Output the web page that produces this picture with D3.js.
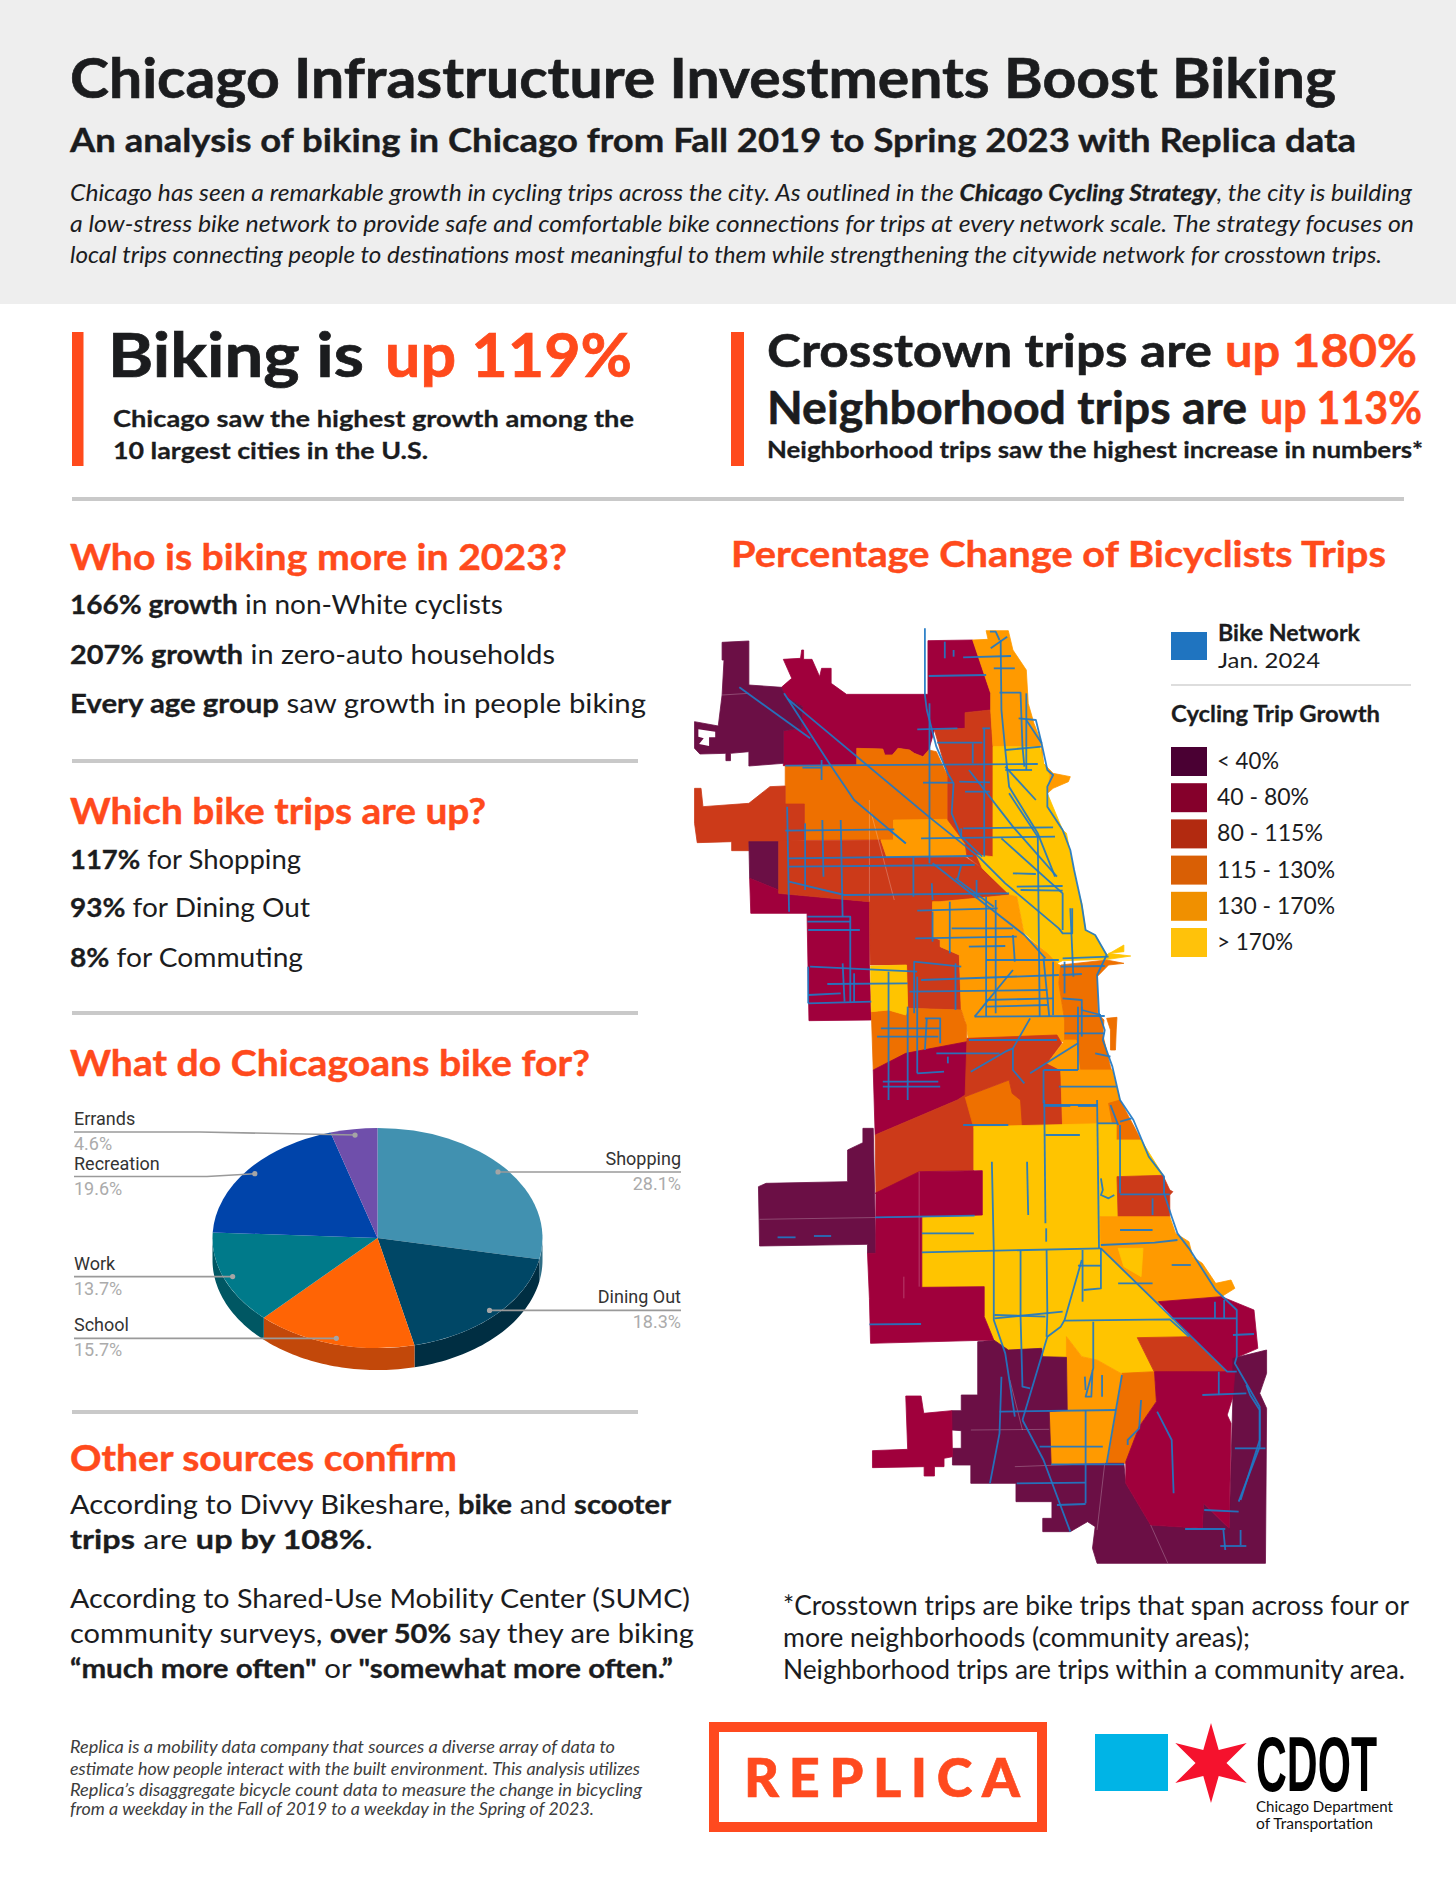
<!DOCTYPE html>
<html>
<head>
<meta charset="utf-8">
<title>Chicago biking</title>
<script src="https://cdn.jsdelivr.net/npm/d3@7"></script>
<style>
  html, body { margin: 0; padding: 0; background: #fff; }
  svg { display: block; }
  text { font-family: Lato, "Open Sans", sans-serif; }
</style>
</head>
<body>
<svg id="page" width="1456" height="1885"></svg>
<script>
// pie data
var tripNames = ["Shopping", "Dining Out", "School", "Work", "Recreation", "Errands"];
var tripShares = [28.1, 18.3, 15.7, 13.7, 19.6, 4.6];
var tripTop = ["#4191b0", "#004766", "#ff6405", "#007a8a", "#0044aa", "#6f4fab"];
var tripSide = ["#2f6e86", "#002e42", "#c2480a", "#005763", "#002f78", "#4c3577"];

// legend
var growthLabels = ["< 40%", "40 - 80%", "80 - 115%", "115 - 130%", "130 - 170%", "> 170%"];
var growthSwatch = ["#4a0033", "#85002b", "#b22a10", "#d95f05", "#f09000", "#ffc20a"];
var growthMap = ["#6b0f45", "#a0003c", "#cc3a19", "#ee7000", "#ff9a00", "#ffc400"];

// map areas, [growth class, outline], outline is flat u,v pairs in map units
var areas = [
  [1, [648,122,765,120,812,280,812,330,745,338,745,385,665,390,650,450,635,470,612,460,600,450,570,445,555,465,535,465,530,447,462,445,462,497,270,497,270,392,318,385,320,320,275,290,265,262,292,235,270,178,315,175,318,150,323,150,323,178,345,178,365,230,370,205,395,205,395,250,435,283,648,283]],
  [0, [110,127,180,123,180,255,265,262,275,290,320,320,318,385,270,392,270,490,180,498,180,455,132,460,132,482,120,482,120,460,52,462,38,445,38,365,100,378,110,285,115,180,110,180]],
  [3, [275,497,462,495,462,445,530,447,535,465,555,465,570,445,600,450,612,460,635,470,650,450,670,455,700,530,700,660,558,660,558,720,325,720,325,612,275,612]],
  [2, [38,565,55,565,60,620,180,610,235,560,275,558,275,612,325,612,325,720,258,725,180,725,180,752,135,752,135,725,45,728,38,670]],
  [0, [180,725,258,725,258,870,182,835]],
  [1, [182,835,258,870,258,880,495,905,495,1095,500,1260,337,1262,332,940,185,940]],
  [2, [258,722,525,720,540,770,745,770,790,805,862,885,680,905,660,910,660,1010,680,1020,680,1040,730,1065,735,1230,595,1225,592,1095,497,1095,495,905,258,880]],
  [4, [558,660,700,658,745,730,750,770,540,770,525,720,558,720]],
  [2, [665,390,745,385,745,338,812,330,818,440,820,770,790,805,750,770,745,730,700,660,700,530]],
  [4, [765,120,805,118,800,92,858,92,870,150,905,210,910,310,925,370,945,430,940,440,818,440,812,330,812,280]],
  [4, [945,430,950,490,975,520,1020,530,1015,545,975,565,960,580,940,520]],
  [5, [818,440,940,440,950,490,965,525,960,580,1000,690,1010,700,1020,760,1040,870,1050,910,1060,990,1085,1005,1115,1065,1160,1035,1160,1055,1120,1060,1178,1068,1120,1078,1000,1082,985,1090,960,1060,900,1000,880,890,862,885,790,805,775,765,818,770]],
  [4, [680,905,862,885,880,890,900,1005,960,1060,985,1090,1000,1100,990,1150,1005,1260,1005,1325,755,1325,745,1260,735,1230,730,1065,680,1040,680,1020,660,1010,660,905]],
  [3, [995,1095,1115,1080,1160,1090,1120,1095,1090,1130,1092,1240,1108,1260,1105,1305,1125,1400,1130,1420,1045,1415,1035,1325,1005,1320,1005,1260,990,1150]],
  [3, [1115,1255,1142,1252,1140,1290,1138,1350,1125,1350,1125,1290]],
  [3, [500,1235,545,1230,590,1245,595,1225,735,1230,748,1275,750,1330,590,1365,505,1410]],
  [5, [498,1098,592,1095,595,1225,590,1245,545,1230,500,1235]],
  [1, [505,1410,590,1360,750,1325,755,1480,725,1500,510,1605]],
  [2, [510,1605,725,1500,752,1480,768,1580,768,1712,625,1715,555,1760,512,1780]],
  [3, [745,1490,860,1440,870,1480,895,1500,900,1585,768,1585]],
  [2, [750,1315,985,1305,998,1330,960,1390,995,1410,1000,1585,895,1585,890,1500,868,1480,860,1440,745,1490]],
  [4, [1005,1320,1035,1320,1045,1410,1130,1410,1150,1500,1140,1585,1000,1585,995,1410,960,1390,1000,1330]],
  [3, [1120,1510,1150,1500,1205,1620,1140,1625,1130,1570]],
  [5, [768,1580,1140,1570,1140,1620,1205,1620,1262,1725,1142,1732,1145,1850,1100,1850,1100,1945,1335,2212,1195,2215,1240,2315,1155,2322,1090,2280,1050,2270,1010,2210,1010,2272,948,2270,945,2245,858,2250,820,2220,795,2150,795,2060,632,2062,632,1850,790,1845,790,1712,768,1710]],
  [2, [1142,1730,1262,1726,1280,1770,1288,1775,1280,1785,1280,1852,1145,1852]],
  [4, [1098,1850,1280,1850,1295,1900,1330,1925,1340,1970,1365,1990,1400,2050,1440,2040,1450,2065,1415,2090,1400,2105,1250,2115,1100,1945]],
  [5, [1145,1945,1210,1945,1205,2030,1160,2000]],
  [1, [1250,2105,1415,2090,1500,2130,1510,2245,1450,2275,1450,2315,1430,2315,1335,2212]],
  [2, [1195,2213,1335,2210,1430,2315,1240,2317]],
  [3, [1155,2320,1240,2315,1245,2405,1200,2480,1165,2590,1115,2590]],
  [4, [1010,2272,1010,2210,1050,2270,1090,2280,1155,2322,1140,2430,1115,2593,968,2595,965,2433,1012,2430]],
  [0, [778,2225,820,2220,858,2250,945,2245,948,2270,1010,2272,1012,2430,965,2435,970,2595,1115,2590,1160,2590,1165,2650,1230,2775,1365,2785,1368,2710,1435,2785,1445,2390,1445,2275,1533,2250,1533,2320,1515,2380,1533,2425,1530,2890,1090,2890,1078,2845,1085,2780,1065,2765,1020,2795,948,2795,948,2755,972,2755,972,2705,878,2705,878,2650,760,2650,760,2595,712,2595,712,2545,735,2545,735,2492,710,2490,710,2432,735,2432,735,2385,778,2385]],
  [1, [1240,2315,1450,2315,1445,2390,1430,2445,1440,2470,1435,2785,1368,2710,1365,2785,1230,2775,1165,2650,1165,2585,1200,2480,1245,2405]],
  [1, [590,2388,630,2388,637,2440,710,2432,712,2570,690,2575,690,2600,665,2600,665,2628,638,2628,638,2600,503,2603,503,2552,595,2548]],
  [0, [205,1760,225,1750,438,1745,438,1650,478,1628,478,1585,505,1585,512,1960,490,1960,490,1933,208,1938]],
  [1, [510,1780,625,1715,790,1712,790,1845,632,1850,632,2062,795,2060,795,2150,820,2220,498,2230,495,2095,490,1960,512,1960,512,1780]]
];

// white gap inside the northwest area
var gaps = [[48,388,92,395,92,412,76,412,76,438,50,432,62,415,48,410]];

// thin community area borders
var borders = [
  [625,1715,625,2060], [208,1858,770,1848], [495,600,495,905], [110,285,180,280],
  [500,640,560,900], [760,2490,965,2488], [1110,2590,1090,2790], [875,2600,1110,2590],
  [1230,2775,1275,2890], [862,2340,895,2490], [585,2030,585,2095]
];

// bike network polylines in map units
var bikeLines = [
  [640,85,640,285,645,330,670,440,700,520,715,550,710,640,735,710,790,770],
  [652,310,652,790], [838,120,840,330,850,450,860,560,935,700,980,830],
  [810,95,825,95,835,120], [855,110,812,145], [740,172,865,168], [820,205,875,205],
  [650,228,800,225], [692,125,692,175], [715,150,715,170], [835,278,890,278,895,440,900,500],
  [905,280,905,510], [885,355,930,360,945,430], [620,388,725,385], [672,428,790,428],
  [790,385,810,385], [795,385,795,770], [765,430,765,490], [275,497,935,492], [320,503,370,503],
  [370,480,370,540], [635,548,715,548], [745,575,810,575], [730,545,810,547], [850,510,920,510],
  [850,450,945,440], [905,360,945,430,960,510,975,525,960,560,960,620,1000,690,1020,750,1030,810,1050,915,1060,990,1085,1005,1115,1065,1090,1125,1095,1240,1110,1290,1105,1320,1130,1400,1150,1500,1185,1560,1225,1670,1265,1730,1265,1780,1285,1850,1300,1900,1330,1945,1400,2070,1455,2130,1455,2270,1450,2290,1475,2340,1515,2420,1515,2520,1465,2700],
  [155,262,340,415], [280,295,650,650,780,770,850,850,990,985,1000,1000,1025,1000,1025,925],
  [272,280,390,490,455,600,590,730], [660,790,900,1005,955,1075], [720,835,820,920],
  [755,510,870,680,985,830], [860,580,935,710,940,1250], [850,500,930,600], [840,715,1000,880,1000,990],
  [890,870,1000,872], [870,820,930,822], [880,860,1000,858], [275,692,560,688], [545,688,590,730],
  [630,715,980,710], [740,685,975,682], [735,685,735,712], [282,775,765,768], [285,800,770,795],
  [285,845,430,885,860,880], [620,932,830,925], [615,1015,880,1010], [660,935,660,1025], [705,905,705,1060],
  [710,985,870,985], [755,1040,850,1038], [800,1080,990,1080], [630,1140,990,1125], [600,1175,960,1170],
  [340,1100,620,1115], [385,1152,595,1150], [335,1210,500,1205], [335,1185,420,1180],
  [280,620,285,935], [327,670,327,870], [372,660,375,830], [420,660,425,950], [610,770,610,890],
  [658,850,660,900], [735,795,725,840], [775,840,775,895], [800,890,800,1250], [825,900,825,1240],
  [870,1005,875,1085], [720,1090,720,1230], [735,1100,612,1085,612,1240], [950,1075,965,1250],
  [975,1085,975,1245], [1005,1085,1005,1180], [1020,925,1028,1130], [770,1250,870,1110], [770,1250,1110,1248],
  [800,1200,975,1195], [800,1220,960,1215], [333,950,445,950,445,1205], [333,965,445,965], [335,990,470,990],
  [335,1100,335,1210], [425,1090,430,1205], [455,1120,455,1205], [620,1130,620,1420], [595,1220,595,1500],
  [545,1115,545,1500], [640,1255,680,1255,680,1330], [525,1285,680,1285], [515,1310,675,1310], [645,1255,640,1350],
  [670,1360,835,1360], [620,1420,690,1415], [530,1445,675,1445], [530,1460,680,1460], [700,1370,700,1390],
  [760,1415,850,1355,870,1345], [915,1255,870,1345,870,1410,900,1450], [755,1320,985,1320], [915,1420,1040,1330],
  [950,1410,1040,1410], [1040,1220,1040,1410], [950,1410,950,1510], [950,1515,1090,1515], [990,1460,1140,1460],
  [1050,1220,1050,1310], [1000,1195,1050,1200,1050,1230,1100,1245], [1005,1300,1110,1300], [1085,1360,1125,1370],
  [1000,1075,1120,1070], [995,1100,1110,1098], [1000,1125,1050,1122],
  [952,1500,955,1870], [957,1885,957,1925], [1090,1500,1095,1945], [740,1575,858,1575], [955,1605,1045,1605],
  [1090,1570,1145,1570], [1150,1575,1150,1780], [1125,1515,1145,1575], [1150,1565,1180,1555], [950,1518,1020,1518],
  [1040,1518,1090,1518], [1100,1735,1105,1770,1100,1785,1120,1795,1135,1785], [1150,1783,1280,1783], [1235,1795,1235,1845],
  [815,1685,820,1950,820,2160,850,2260,875,2450], [907,1685,910,1845], [632,1900,768,1900], [632,1957,1100,1945],
  [510,1852,770,1847], [255,1912,302,1912], [350,1908,395,1908], [1150,1890,1235,1890], [1100,1935,1240,1928,1300,1920],
  [1100,1945,1430,2315,1455,2315], [1285,1995,1335,1995], [1145,2050,1235,2050], [1040,1997,1100,1997],
  [1100,1945,1100,2065,1055,2070], [1052,1950,1052,2105], [890,1952,890,2150,895,2360,915,2365], [958,1950,960,2140,958,2210],
  [1050,1980,1005,2160,995,2180,960,2210,895,2460], [822,2155,1000,2135], [822,2145,955,2150], [1005,2162,1280,2158,1330,2210],
  [1080,2165,1080,2305,1060,2390,1075,2390,1078,2310], [1058,2330,1060,2370], [1103,2325,1103,2390], [1155,2325,1115,2590],
  [1285,2155,1455,2155], [1398,2105,1398,2155], [1422,2100,1422,2155], [1445,2205,1500,2202], [1408,2315,1408,2385],
  [1365,2385,1480,2380], [1480,2355,1490,2385,1515,2430,1515,2540,1460,2705], [1450,2545,1530,2545], [1370,2730,1460,2735],
  [1420,2790,1425,2850], [1412,2838,1480,2838], [1465,2790,1465,2835], [1320,2787,1425,2787], [1247,2435,1285,2520,1290,2680],
  [1205,2400,1200,2485,1170,2520,1170,2535], [840,2330,835,2500,810,2650], [835,2435,1140,2430], [940,2540,1105,2540],
  [970,2593,1160,2593], [1060,2590,1060,2710], [880,2650,1060,2648], [985,2715,1060,2712], [895,2460,950,2580,1020,2795],
  [1060,2430,1060,2590], [495,2173,630,2172]
];

var svg = d3.select("#page");
var INK = "#1b1c1e", ORANGE = "#ff4a1c";

// text line, runs are [string, weight, fill]; w pins the line width
function txt(x, y, w, size, weight, fill, runs, anchor, style) {
  var t = svg.append("text").attr("x", x).attr("y", y)
    .attr("font-size", size).attr("font-weight", weight).attr("fill", fill)
    .attr("text-anchor", anchor || "start");
  if (style) t.attr("font-style", style);
  if (w) t.attr("textLength", w).attr("lengthAdjust", "spacingAndGlyphs");
  runs.forEach(function(r) {
    var s = t.append("tspan").text(r[0]);
    var wt = r[1] || weight, col = r[2] || fill;
    if (r[1]) s.attr("font-weight", r[1]);
    if (r[2]) s.attr("fill", r[2]);
    // Lato bold is a bit lighter than the reference face
    if (wt >= 700) s.attr("stroke", col).attr("stroke-width", size * 0.012);
  });
  return t;
}
function rect(x, y, w, h, fill) {
  return svg.append("rect").attr("x", x).attr("y", y).attr("width", w).attr("height", h).attr("fill", fill);
}

// header
rect(0, 0, 1456, 304, "#eeeeee");
txt(70, 98, 1266, 56, 700, INK, [["Chicago Infrastructure Investments Boost Biking"]]);
txt(70, 152, 1286, 32, 700, INK, [["An analysis of biking in Chicago from Fall 2019 to Spring 2023 with Replica data"]]);
txt(70, 200.5, 1342, 22.5, 400, INK, [["Chicago has seen a remarkable growth in cycling trips across the city. As outlined in the "], ["Chicago Cycling Strategy", 700], [", the city is building"]], null, "italic");
txt(70, 231.5, 1344, 22.5, 400, INK, [["a low-stress bike network to provide safe and comfortable bike connections for trips at every network scale. The strategy focuses on"]], null, "italic");
txt(70, 262.5, 1312, 22.5, 400, INK, [["local trips connecting people to destinations most meaningful to them while strengthening the citywide network for crosstown trips."]], null, "italic");

// headline numbers
rect(72, 332, 11.5, 134, ORANGE);
rect(731, 332, 13, 134, ORANGE);
txt(108, 377, 256, 61, 700, INK, [["Biking is"]]);
txt(385, 377, 247, 61, 700, ORANGE, [["up 119%"]]);
txt(113, 427, 521, 23.5, 700, INK, [["Chicago saw the highest growth among the"]]);
txt(113, 458.5, 315, 23.5, 700, INK, [["10 largest cities in the U.S."]]);
txt(767, 367, 445, 46, 700, INK, [["Crosstown trips are"]]);
txt(1225, 367, 192, 46, 700, ORANGE, [["up 180%"]]);
txt(767, 424, 480, 46, 700, INK, [["Neighborhood trips are"]]);
txt(1260, 424, 162, 46, 700, ORANGE, [["up 113%"]]);
txt(767, 458, 656, 23.5, 700, INK, [["Neighborhood trips saw the highest increase in numbers*"]]);
rect(72, 497, 1332, 4, "#c9c9c9");

// left column
txt(70, 569.5, 497, 36, 700, ORANGE, [["Who is biking more in 2023?"]]);
txt(70, 613.5, 433, 26.5, 400, INK, [["166% growth", 700], [" in non-White cyclists"]]);
txt(70, 664, 485, 26.5, 400, INK, [["207% growth", 700], [" in zero-auto households"]]);
txt(70, 713, 576, 26.5, 400, INK, [["Every age group", 700], [" saw growth in people biking"]]);
rect(72, 759, 566, 4, "#c9c9c9");
txt(70, 824, 416, 36, 700, ORANGE, [["Which bike trips are up?"]]);
txt(70, 869, 231, 26.5, 400, INK, [["117%", 700], [" for Shopping"]]);
txt(70, 917, 240, 26.5, 400, INK, [["93%", 700], [" for Dining Out"]]);
txt(70, 967, 233, 26.5, 400, INK, [["8%", 700], [" for Commuting"]]);
rect(72, 1011, 566, 4, "#c9c9c9");
txt(70, 1076, 520, 36, 700, ORANGE, [["What do Chicagoans bike for?"]]);
rect(72, 1410, 566, 4, "#c9c9c9");
txt(70, 1470.5, 387, 36, 700, ORANGE, [["Other sources confirm"]]);
txt(70, 1514, 601, 26.5, 400, INK, [["According to Divvy Bikeshare, "], ["bike", 700], [" and "], ["scooter", 700]]);
txt(70, 1549, 303, 26.5, 400, INK, [["trips", 700], [" are "], ["up by 108%", 700], ["."]]);
txt(70, 1608, 620, 26.5, 400, INK, [["According to Shared-Use Mobility Center (SUMC)"]]);
txt(70, 1643, 624, 26.5, 400, INK, [["community surveys, "], ["over 50%", 700], [" say they are biking"]]);
txt(70, 1678, 603, 26.5, 400, INK, [["“much more often\"", 700], [" or "], ["\"somewhat more often.”", 700]]);

// pie
var CX = 377.5, CY = 1238, R = 165, SQUASH = 0.667, DEPTH = 22, DOT_R = 156;
var slices = d3.pie().sort(null)(tripShares);
var arc = d3.arc().innerRadius(0).outerRadius(R);
var rim = function(a, r) { return [CX + r * Math.sin(a), CY - r * Math.cos(a) * SQUASH]; };

// wall of the slice, only where it faces the viewer
var wall = d3.line();
svg.append("g").selectAll("path").data(slices).enter().append("path")
  .attr("fill", function(d, i) { return tripSide[i]; })
  .attr("d", function(d) {
    var a0 = Math.max(d.startAngle, Math.PI / 2), a1 = Math.min(d.endAngle, Math.PI * 1.5);
    if (a1 <= a0) return null;
    var n = 40, top = d3.range(n + 1).map(function(k) { return rim(a0 + (a1 - a0) * k / n, R); });
    var low = top.slice().reverse().map(function(p) { return [p[0], p[1] + DEPTH]; });
    return wall(top.concat(low)) + "Z";
  });
svg.append("g").attr("transform", "translate(" + CX + "," + CY + ") scale(1," + SQUASH + ")")
  .selectAll("path").data(slices).enter().append("path")
  .attr("fill", function(d, i) { return tripTop[i]; })
  .attr("d", arc);

// leader lines and labels
var leaderBend = { "Errands": [1132, 200], "Recreation": [1176.5, 207] };
slices.forEach(function(d, i) {
  var name = tripNames[i], mid = (d.startAngle + d.endAngle) / 2, p = rim(mid, DOT_R);
  var right = p[0] > CX, edge = right ? 681 : 74;
  var bend = leaderBend[name], y = bend ? bend[0] : p[1];
  var pts = bend ? [p, [bend[1], y], [edge, y]] : [p, [edge, y]];
  svg.append("path").attr("d", d3.line()(pts)).attr("fill", "none").attr("stroke", "#9a9a9a").attr("stroke-width", 1.6);
  svg.append("circle").attr("cx", p[0]).attr("cy", p[1]).attr("r", 2.6).attr("fill", "#a5a5a5");
  var anchor = right ? "end" : "start";
  svg.append("text").attr("x", edge).attr("y", y - 7).attr("text-anchor", anchor)
    .attr("font-size", 18).attr("fill", "#333").style("font-family", "Roboto, sans-serif").text(name);
  svg.append("text").attr("x", edge).attr("y", y + 18).attr("text-anchor", anchor)
    .attr("font-size", 18).attr("fill", "#ababab").style("font-family", "Roboto, sans-serif").text(tripShares[i] + "%");
});

// map
txt(731, 566.5, 655, 36, 700, ORANGE, [["Percentage Change of Bicyclists Trips"]]);
var mapX = d3.scaleLinear().domain([0, 1568]).range([680, 1280]);
var mapY = d3.scaleLinear().domain([0, 3000]).range([600, 1600]);
var pairs = function(f) { return d3.range(f.length / 2).map(function(k) { return [f[2 * k], f[2 * k + 1]]; }); };
var mapLine = d3.line().x(function(p) { return mapX(p[0]); }).y(function(p) { return mapY(p[1]); });
var map = svg.append("g");
map.selectAll("path.area").data(areas).enter().append("path").attr("class", "area")
  .attr("fill", function(d) { return growthMap[d[0]]; })
  .attr("stroke", function(d) { return growthMap[d[0]]; }).attr("stroke-width", 0.8)
  .attr("d", function(d) { return mapLine(pairs(d[1])) + "Z"; });
map.selectAll("path.gap").data(gaps).enter().append("path").attr("class", "gap")
  .attr("fill", "#fff").attr("d", function(d) { return mapLine(pairs(d)) + "Z"; });
map.selectAll("path.border").data(borders).enter().append("path").attr("class", "border")
  .attr("fill", "none").attr("stroke", "#fff").attr("stroke-opacity", 0.3).attr("stroke-width", 0.8)
  .attr("d", function(d) { return mapLine(pairs(d)); });
map.selectAll("path.bike").data(bikeLines).enter().append("path").attr("class", "bike")
  .attr("fill", "none").attr("stroke", "#1f78c4").attr("stroke-opacity", 0.92).attr("stroke-width", 1.8).attr("stroke-linejoin", "round")
  .attr("d", function(d) { return mapLine(pairs(d)); });

// legend
rect(1171, 632, 36, 28, "#1f74c0");
txt(1218, 641, 142, 22, 700, INK, [["Bike Network"]]);
txt(1218, 668, 102, 22, 400, INK, [["Jan. 2024"]]);
rect(1171, 684, 240, 2, "#dddddd");
txt(1171, 722, 209, 22, 700, INK, [["Cycling Trip Growth"]]);
var swatchY = d3.scalePoint().domain(growthLabels).range([747, 928]);
var growthWidths = [62, 92, 106, 118, 118, 76];
growthLabels.forEach(function(g, i) {
  rect(1171, swatchY(g), 36, 29, growthSwatch[i]);
  txt(1217, swatchY(g) + 22, growthWidths[i], 23, 400, INK, [[g]]);
});

// footnote
txt(783, 1615, 626, 26, 400, INK, [["*Crosstown trips are bike trips that span across four or"]]);
txt(783, 1647, 467, 26, 400, INK, [["more neighborhoods (community areas);"]]);
txt(783, 1679, 622, 26, 400, INK, [["Neighborhood trips are trips within a community area."]]);

// bottom text
var FOOT = "#3d3d3d";
txt(70, 1753, 545, 16.5, 400, FOOT, [["Replica is a mobility data company that sources a diverse array of data to"]], null, "italic");
txt(70, 1775, 570, 16.5, 400, FOOT, [["estimate how people interact with the built environment. This analysis utilizes"]], null, "italic");
txt(70, 1796, 572, 16.5, 400, FOOT, [["Replica’s disaggregate bicycle count data to measure the change in bicycling"]], null, "italic");
txt(70, 1815, 524, 16.5, 400, FOOT, [["from a weekday in the Fall of 2019 to a weekday in the Spring of 2023."]], null, "italic");

// logos
svg.append("rect").attr("x", 714).attr("y", 1727).attr("width", 328).attr("height", 100)
  .attr("fill", "#fff").attr("stroke", "#ff4a1f").attr("stroke-width", 10);
txt(744, 1797, 276, 54, 900, "#ff4a1f", [["REPLICA"]]).attr("lengthAdjust", "spacing");
rect(1095, 1734, 73, 57, "#00b4e6");
var star = d3.range(12).map(function(k) {
  var a = k * Math.PI / 6, r = k % 2 ? 15 : 40;
  return [1211 + r * Math.sin(a) * 1.03, 1763 - r * Math.cos(a)];
});
svg.append("path").attr("d", d3.line()(star) + "Z").attr("fill", "#f5122d");
svg.append("text").attr("x", 1256).attr("y", 1791).attr("font-size", 78).attr("font-weight", 700)
  .attr("textLength", 121).attr("lengthAdjust", "spacingAndGlyphs").attr("fill", "#000")
  .style("font-family", "'Liberation Sans Narrow', 'Liberation Sans', sans-serif").text("CDOT");
txt(1256, 1812, 137, 15.5, 400, "#111", [["Chicago Department"]]);
txt(1256, 1829, 117, 15.5, 400, "#111", [["of Transportation"]]);
</script>
</body>
</html>
